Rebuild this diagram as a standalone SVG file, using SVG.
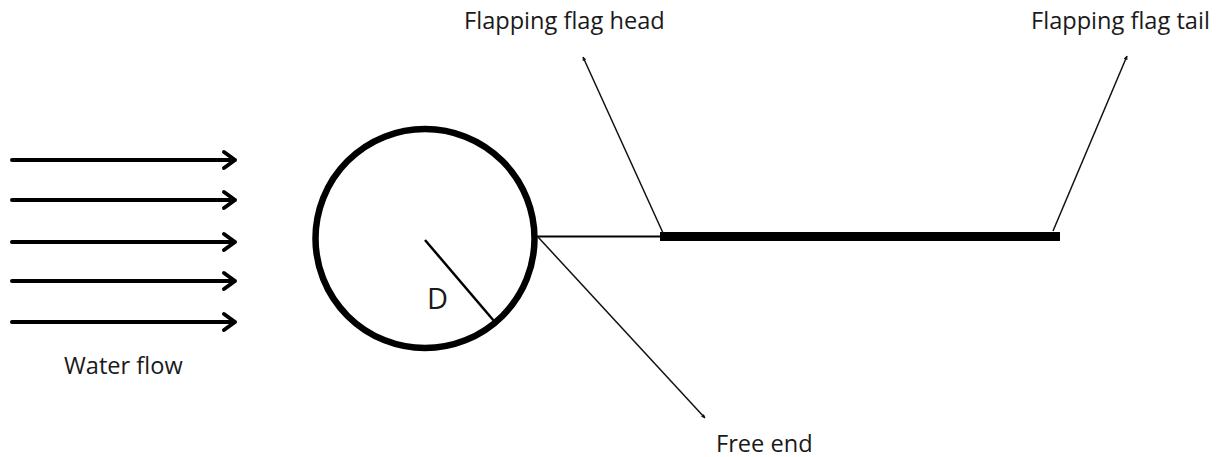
<svg xmlns="http://www.w3.org/2000/svg" width="1222" height="457" viewBox="0 0 1222 457">
<style>
.lbl{font-family:"Open Sans","Noto Sans",sans-serif;font-size:23.6px;fill:#1a1a1a}
.flow{stroke:#000;stroke-width:4;fill:none;stroke-linecap:round;stroke-linejoin:round}
.thin{stroke:#111;stroke-width:1.5;fill:none}
</style>
<defs>
<marker id="sm" viewBox="0 0 10 10" refX="9" refY="5" markerWidth="4" markerHeight="4" orient="auto" markerUnits="userSpaceOnUse">
<path d="M0,0 L10,5 L0,10 z" fill="#111"/>
</marker>
</defs>
<rect width="1222" height="457" fill="#fff"/>
<g id="water-flow">
<path class="flow" d="M12,160 H235 M224,152 L235,160 L224,168"/>
<path class="flow" d="M12,200 H235 M224,192 L235,200 L224,208"/>
<path class="flow" d="M12,242 H235 M224,234 L235,242 L224,250"/>
<path class="flow" d="M12,281 H235 M224,273 L235,281 L224,289"/>
<path class="flow" d="M12,322 H235 M224,314 L235,322 L224,330"/>
<text class="lbl" x="64" y="374">Water flow</text>
</g>
<g id="cylinder">
<circle cx="425" cy="238.5" r="109.5" fill="none" stroke="#000" stroke-width="6.5"/>
<line x1="425" y1="240" x2="494" y2="321" stroke="#000" stroke-width="2.5"/>
<text x="427" y="309" style="font-family:'Open Sans','Noto Sans',sans-serif;font-size:29px;fill:#1a1a1a">D</text>
</g>
<g id="flag">
<line x1="537" y1="236.5" x2="661" y2="236.5" stroke="#000" stroke-width="2"/>
<rect x="660" y="232" width="400" height="9" fill="#000"/>
</g>
<g id="connectors">
<line class="thin" x1="663" y1="233" x2="583" y2="57" marker-end="url(#sm)"/>
<line class="thin" x1="1053" y1="231" x2="1127" y2="56" marker-end="url(#sm)"/>
<line class="thin" x1="538" y1="237" x2="705" y2="418" marker-end="url(#sm)"/>
</g>
<g id="label-head"><text class="lbl" x="464" y="29">Flapping flag head</text></g>
<g id="label-tail"><text class="lbl" x="1031" y="29">Flapping flag tail</text></g>
<g id="label-free"><text class="lbl" x="716" y="452">Free end</text></g>
</svg>
